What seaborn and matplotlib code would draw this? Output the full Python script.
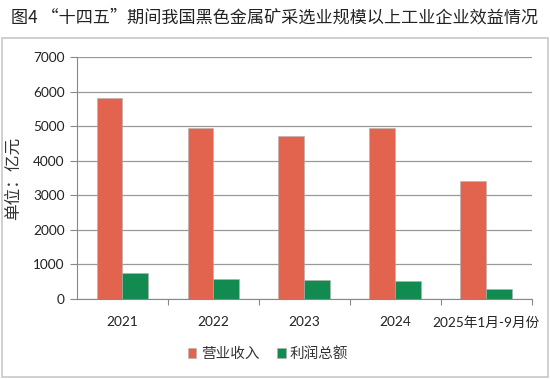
import matplotlib
matplotlib.use("Agg")
import matplotlib.pyplot as plt
import seaborn as sns
import pandas as pd
from matplotlib.patches import Rectangle

categories = ["2021", "2022", "2023", "2024", "2025年1月-9月份"]
revenue = [5800, 4940, 4720, 4950, 3410]
profit = [750, 570, 540, 520, 300]
series_names = ["营业收入", "利润总额"]
colors = ["#E2634E", "#128B50"]
title = "图4 “十四五”期间我国黑色金属矿采选业规模以上工业企业效益情况"
ylabel = "单位：亿元"
yticks = [0, 1000, 2000, 3000, 4000, 5000, 6000, 7000]

df = pd.DataFrame({
    "cat": categories * 2,
    "val": revenue + profit,
    "series": [series_names[0]] * len(categories) + [series_names[1]] * len(categories),
})

sns.set_theme(style="white")
plt.rcParams["font.family"] = ["Lato", "Noto Sans CJK SC", "DejaVu Sans"]

fig = plt.figure(figsize=(5.5, 3.79), dpi=100)
fig.patch.set_facecolor("white")
ax = fig.add_axes([0.14, 0.211, 0.827, 0.6386])

sns.barplot(data=df, x="cat", y="val", hue="series", palette=colors,
            width=0.57, ax=ax, saturation=1, edgecolor="#B0B0B0", linewidth=0.4,
            legend=True)

ax.set_ylim(0, 7000)
ax.set_xlim(-0.5, len(categories) - 0.5)
ax.set_yticks(yticks)
ax.set_yticklabels([str(t) for t in yticks], fontsize=9.8, color="#222222")
ax.set_xticks(range(len(categories)))
ax.set_xticklabels(categories, fontsize=9.8, color="#222222",
                   fontfamily=["Lato", "Noto Sans CJK SC"])
ax.tick_params(axis="x", length=0, pad=12)
ax.tick_params(axis="y", length=5, width=0.8, color="#888888", pad=4, left=True)

ax.set_xticks([i + 0.5 for i in range(len(categories))], minor=True)
ax.tick_params(axis="x", which="minor", length=4, width=0.8, color="#888888", bottom=True, direction="out")

ax.yaxis.grid(True, color="#999999", linewidth=0.9)
ax.set_axisbelow(True)
for s in ["top", "right"]:
    ax.spines[s].set_visible(False)
ax.spines["left"].set_color("#888888")
ax.spines["bottom"].set_color("#888888")
ax.spines["left"].set_linewidth(0.8)
ax.spines["bottom"].set_linewidth(0.8)

ax.set_xlabel("")
ax.set_ylabel(ylabel, fontsize=12, fontfamily=["Noto Sans CJK SC"], color="#333333", labelpad=8)

leg = ax.legend(loc="upper center", bbox_to_anchor=(0.42, -0.145), ncol=2, frameon=False,
                handlelength=0.6, handleheight=0.6, handletextpad=0.3,
                columnspacing=1.2, prop={"family": ["Noto Sans CJK SC"], "size": 10.5})
for t in leg.get_texts():
    t.set_color("#333333")

fig.text(0.5, 0.955, title, ha="center", va="center", fontsize=12.3,
         fontfamily=["Noto Sans CJK SC", "DejaVu Sans"], color="#222222")

fig.patches.append(Rectangle((0.003, 0.006), 0.994, 0.894, transform=fig.transFigure,
                             fill=False, edgecolor="#C8C8C8", linewidth=1.2))

fig.savefig("out.png", dpi=100)
